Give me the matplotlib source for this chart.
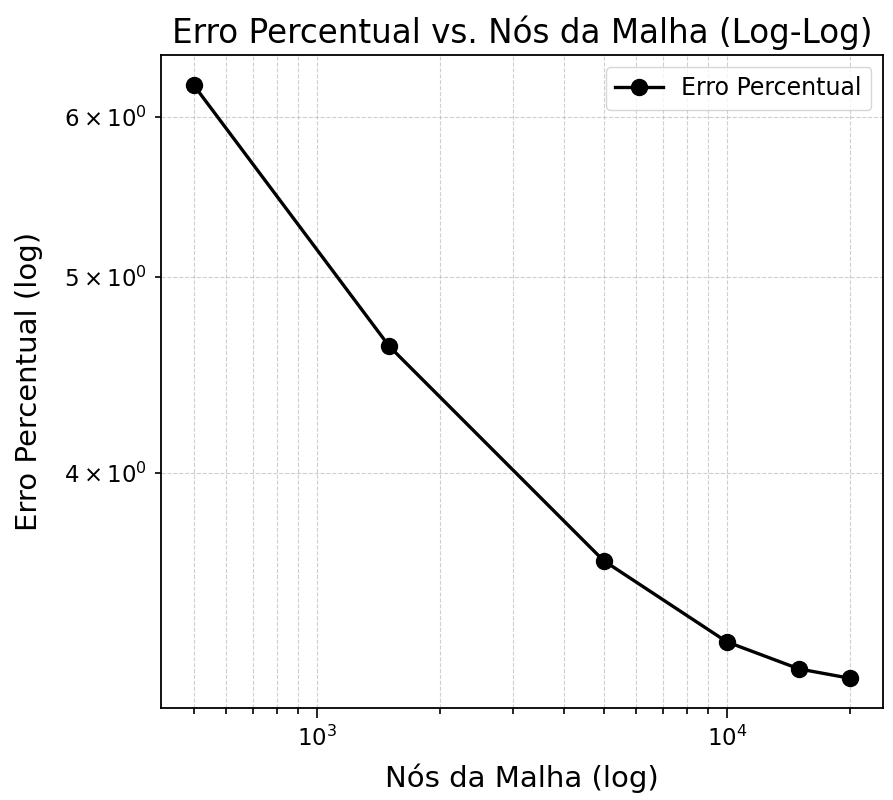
import matplotlib
matplotlib.use("Agg")
import matplotlib.pyplot as plt

# Data
nos_malha = [500, 1500, 5000, 10000, 15000, 20000]
erro_percentual = [6.22, 4.62, 3.62, 3.30, 3.20, 3.166]

fig, ax = plt.subplots(figsize=(8.93, 8.0), dpi=100)
fig.subplots_adjust(left=0.180, right=0.989, top=0.931, bottom=0.115)

ax.plot(nos_malha, erro_percentual, marker="o", color="black", lw=2.4,
        markersize=11.5, label="Erro Percentual")
ax.set_xscale("log")
ax.set_yscale("log")

ax.set_xlabel("Nós da Malha (log)", fontsize=21, labelpad=9)
ax.set_ylabel("Erro Percentual (log)", fontsize=21, labelpad=15)
ax.set_title("Erro Percentual vs. Nós da Malha (Log-Log)", fontsize=23.5, pad=9)
ax.tick_params(axis="both", which="both", labelsize=16.5, width=1.2, pad=6)
ax.tick_params(axis="both", which="major", length=7)
ax.tick_params(axis="both", which="minor", length=4)
for spine in ax.spines.values():
    spine.set_linewidth(1.3)

ax.grid(True, which="both", linestyle="--", linewidth=0.8, alpha=0.6)
ax.legend(loc="upper right", fontsize=17)

plt.savefig("out.png", dpi=100)
